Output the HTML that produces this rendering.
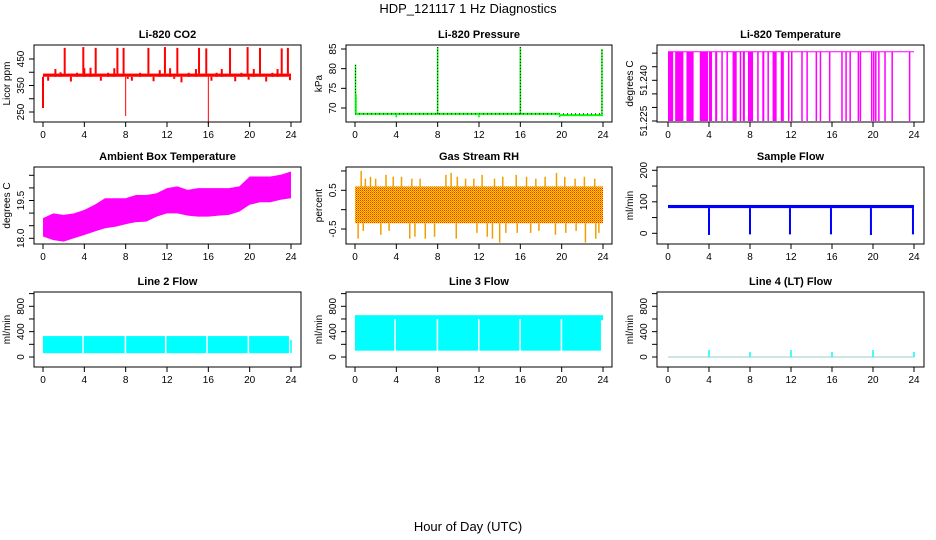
<!DOCTYPE html>
<html><head><meta charset="utf-8">
<style>
html,body{margin:0;padding:0;background:#fff;}
svg{display:block;font-family:"Liberation Sans",sans-serif;}
.t{font-size:11px;font-weight:bold;text-anchor:middle;}
.tk{font-size:10px;text-anchor:middle;}
</style></head>
<body>
<svg id="c" width="936" height="540" viewBox="0 0 936 540" xmlns="http://www.w3.org/2000/svg">
<defs>
<pattern id="rh" width="2" height="2" patternUnits="userSpaceOnUse"><rect width="2" height="2" fill="#ffd200"/><rect width="1" height="1" fill="#ff2a00"/><rect x="1" y="1" width="1" height="1" fill="#f08000"/></pattern>
</defs>
<text x="468" y="13" font-size="13" text-anchor="middle">HDP_121117  1 Hz Diagnostics</text>
<text x="468" y="531" font-size="13" text-anchor="middle">Hour of Day (UTC)</text>
</svg>
<script>
// ---- data arrays ----
const xTicks=[0,4,8,12,16,20,24];
const co2Base=[383,395];
const co2UpHours=[2.1,3.9,5.1,7.2,7.8,10.2,11.8,13.0,15.1,15.8,18.1,19.8,21.0,23.1,23.7];
const co2UpVals=[492,495,492,492,492,492,495,492,492,490,492,495,492,490,492];
const co2SmallHours=[0.5,1.2,1.7,2.7,3.3,4.0,4.6,5.6,6.3,6.9,8.2,8.6,9.4,10.7,11.3,12.3,12.7,13.4,14.1,14.8,16.3,16.8,17.3,18.6,19.2,19.9,20.4,21.6,22.2,22.7,23.9];
const co2SmallVals=[368,412,400,365,398,415,417,368,398,415,375,368,398,366,408,415,375,362,398,412,368,398,412,366,398,372,412,365,398,412,370];
const co2DownHours=[0.0,8.0,16.0];
const co2DownVals=[265,235,205];
const presBase=68.5;
const presSpikeHours=[0.05,8.0,16.0,23.9];
const presSpikeVals=[81,85.5,85.5,85];
const presLateHour=19.8, presLateVal=68.2;
const presDipHours=[4,12,19.8];
const tempTop=51.2505, tempBottom=51.225;
const tempIntervals=[[0.0,0.5],[0.7,1.5],[1.8,2.5],[3.1,3.9],[4.0,4.3],[4.6,4.8],[5.2,5.25],[5.7,5.75],[6.3,6.7],[7.0,7.05],[7.3,7.5],[7.8,8.3],[8.7,8.75],[9.2,9.4],[9.7,9.75],[10.2,10.6],[11.0,11.3],[11.7,11.75],[12.0,12.05],[13.0,13.05],[13.5,13.6],[14.4,14.45],[14.8,14.85],[15.7,15.75],[16.9,17.0],[17.3,17.35],[17.7,17.75],[18.5,18.55],[18.7,18.75],[19.8,19.85],[20.0,20.05],[20.2,20.25],[20.5,20.6],[21.1,21.2],[21.8,21.85],[23.5,23.55]];
const ambHours=[0,1,2,3,4,5,6,7,8,9,10,11,12,13,14,15,16,17,18,19,20,21,22,23,24];
const ambUpper=[18.80,18.99,18.93,18.99,19.13,19.33,19.59,19.59,19.59,19.72,19.72,19.79,19.99,20.06,19.92,19.99,19.99,19.99,19.99,20.06,20.45,20.45,20.45,20.52,20.65];
const ambLower=[18.07,17.93,17.87,18.00,18.13,18.27,18.40,18.46,18.56,18.64,18.66,18.86,18.99,18.99,18.90,18.86,18.86,18.90,18.93,19.06,19.33,19.43,19.43,19.53,19.59];
const rhBand=[-0.35,0.6];
const rhUpHours=[0.6,1.0,1.5,2.0,3.0,3.7,4.5,5.5,6.3,8.8,9.3,9.9,10.7,11.5,12.3,13.5,14.3,15.6,16.6,17.5,18.4,19.5,20.3,21.3,22.2,23.2];
const rhUpVals=[1.0,0.8,0.85,0.8,0.9,0.85,0.85,0.8,0.8,0.9,0.95,0.85,0.8,0.8,0.9,0.8,0.85,0.9,0.85,0.8,0.85,0.95,0.85,0.8,0.85,0.8];
const rhDownHours=[0.3,0.8,2.5,3.3,5.3,5.8,6.8,7.7,9.8,11.8,12.8,13.3,14.0,14.6,15.7,17.0,17.8,19.4,20.4,21.4,22.3,23.3,23.6];
const rhDownVals=[-0.75,-0.55,-0.65,-0.55,-0.75,-0.7,-0.75,-0.7,-0.75,-0.6,-0.7,-0.75,-0.85,-0.6,-0.6,-0.6,-0.55,-0.65,-0.6,-0.55,-0.85,-0.75,-0.6];
const flowBand=[80,90];
const flowDropHours=[4.0,8.0,11.9,15.9,19.8,23.9];
const flowDropVals=[-5,-3,-3,-3,-5,-3];
const l2Band=[60,330];
const l2GapHours=[3.8,7.9,11.8,15.8,19.8];
const l2End=23.8;
const l3Band=[100,660];
const l3GapHours=[3.8,7.9,11.9,15.9,19.9];
const l3End=23.8;
const l4SpikeHours=[4,8,12,16,20,24];
const l4SpikeVals=[110,80,110,80,110,80];

// ---- layout ----
const svg=document.getElementById('c');
const NS='http://www.w3.org/2000/svg';
const cols=[{l:34,r:301,x0:43,x24:291},{l:346,r:612,x0:355,x24:603},{l:657,r:924,x0:668,x24:914}];
const rows=[{t:45,b:122},{t:167,b:244},{t:292,b:367}];
function mk(tag,attrs,parent){const e=document.createElementNS(NS,tag);for(const k in attrs)e.setAttribute(k,attrs[k]);(parent||svg).appendChild(e);return e;}

function panel(ci,ri,title,ylab,cal,ticks,labels,name){
  const c=cols[ci],r=rows[ri];
  const g=mk('g',{});
  
  
  const xs=h=>c.x0+(c.x24-c.x0)*h/24;
  const ys=v=>cal[0][1]+(v-cal[0][0])*(cal[1][1]-cal[0][1])/(cal[1][0]-cal[0][0]);
  const dg=mk('g',{},g);
  
  
  const box=mk('rect',{x:c.l,y:r.t,width:c.r-c.l,height:r.b-r.t,fill:'none',stroke:'#000','stroke-width':1},g);
  
  
  const tt=mk('text',{x:(c.l+c.r)/2,y:r.t-7,class:'t'},g);tt.textContent=title;
  
  
  const xa=mk('g',{},g);
  
  
  mk('line',{x1:xs(0),x2:xs(24),y1:r.b,y2:r.b,stroke:'#000'},xa);
  xTicks.forEach(h=>{mk('line',{x1:xs(h),x2:xs(h),y1:r.b,y2:r.b+5,stroke:'#000'},xa);
    const t=mk('text',{x:xs(h),y:r.b+16,class:'tk'},xa);t.textContent=h;});
  const ya=mk('g',{},g);
  
  
  mk('line',{x1:c.l,x2:c.l,y1:ys(ticks[0]),y2:ys(ticks[ticks.length-1]),stroke:'#000'},ya);
  ticks.forEach(v=>mk('line',{x1:c.l-5,x2:c.l,y1:ys(v),y2:ys(v),stroke:'#000'},ya));
  labels.forEach(l=>{const y=ys(l[0]);const t=mk('text',{x:c.l-10,y:y,class:'tk',transform:`rotate(-90 ${c.l-10} ${y})`},ya);t.textContent=l[1];});
  const yl=mk('text',{x:c.l-24,y:(r.t+r.b)/2,class:'tk',transform:`rotate(-90 ${c.l-24} ${(r.t+r.b)/2})`},g);yl.textContent=ylab;
  
  
  return {xs,ys,g:dg};
}
function vline(p,h,v1,v2,col,w,dash){const e=mk('line',{x1:p.xs(h),x2:p.xs(h),y1:p.ys(v1),y2:p.ys(v2),stroke:col,'stroke-width':w||1},p.g);if(dash)e.setAttribute('stroke-dasharray',dash);return e;}
function band(p,h1,h2,v1,v2,col){return mk('rect',{x:p.xs(h1),y:p.ys(v2),width:p.xs(h2)-p.xs(h1),height:p.ys(v1)-p.ys(v2),fill:col},p.g);}

// CO2
let p=panel(0,0,'Li-820 CO2','Licor ppm',[[250,112],[450,59]],[250,300,350,400,450],[[250,'250'],[350,'350'],[450,'450']],'co2');
band(p,0,24,co2Base[0],co2Base[1],'#ff0000');
co2UpHours.forEach((h,i)=>vline(p,h,co2Base[1],co2UpVals[i],'#ff0000',2));
co2SmallHours.forEach((h,i)=>vline(p,h,co2Base[0],co2SmallVals[i],'#ff0000',2));
co2DownHours.forEach((h,i)=>vline(p,h,co2Base[0],co2DownVals[i],'#ff0000',i==0?2:1));
// Pressure
p=panel(1,0,'Li-820 Pressure','kPa',[[70,108],[85,49]],[70,75,80,85],[[70,'70'],[75,'75'],[80,'80'],[85,'85']],'pressure');
mk('line',{x1:p.xs(0),x2:p.xs(presLateHour),y1:p.ys(presBase),y2:p.ys(presBase),stroke:'#00ff00','stroke-width':2},p.g);
mk('line',{x1:p.xs(presLateHour),x2:p.xs(24),y1:p.ys(presLateVal),y2:p.ys(presLateVal),stroke:'#00ff00','stroke-width':2},p.g);
mk('line',{x1:p.xs(0),x2:p.xs(24),y1:p.ys(presBase),y2:p.ys(presBase),stroke:'#000','stroke-width':1,'stroke-dasharray':'1,3'},p.g);
presDipHours.forEach(h=>vline(p,h,presBase,presBase-0.9,'#00ff00',1.5));
presSpikeHours.forEach((h,i)=>{vline(p,h,presBase,presSpikeVals[i],'#00ff00',1.5);vline(p,h,presBase,presSpikeVals[i],'#000',1,'1,2');});
vline(p,0.1,presBase,73.5,'#00ff00',1.5);
// Temperature
p=panel(2,0,'Li-820 Temperature','degrees C',[[51.225,121],[51.240,80.3]],[51.225,51.23,51.235,51.24,51.245,51.25],[[51.225,'51.225'],[51.24,'51.240']],'li820-temp');
tempIntervals.forEach(iv=>{const e=band(p,iv[0],iv[1],tempBottom,tempTop,'#ff00ff');if(p.xs(iv[1])-p.xs(iv[0])<1.5)e.setAttribute('width',1.5);});
mk('line',{x1:p.xs(0),x2:p.xs(24),y1:p.ys(tempTop),y2:p.ys(tempTop),stroke:'#ff00ff'},p.g);
// Ambient
p=panel(0,1,'Ambient Box Temperature','degrees C',[[18.0,238.3],[19.5,200.5]],[18,18.5,19,19.5,20,20.5],[[18,'18.0'],[19.5,'19.5']],'ambient-temp');
{let pts=ambHours.map((h,i)=>p.xs(h)+','+p.ys(ambUpper[i]));pts=pts.concat(ambHours.slice().reverse().map((h,j)=>{const i=ambHours.length-1-j;return p.xs(h)+','+p.ys(ambLower[i]);}));
mk('polygon',{points:pts.join(' '),fill:'#ff00ff'},p.g);}
// RH
p=panel(1,1,'Gas Stream RH','percent',[[-0.5,229],[0.5,190.3]],[-0.5,0,0.5,1.0],[[-0.5,'-0.5'],[0.5,'0.5']],'rh');
band(p,0,24,rhBand[0],rhBand[1],'url(#rh)');
rhUpHours.forEach((h,i)=>vline(p,h,rhBand[1],rhUpVals[i],'#f0a000',1.5));
rhDownHours.forEach((h,i)=>vline(p,h,rhBand[0],rhDownVals[i],'#f0a000',1.5));
// Sample flow
p=panel(2,1,'Sample Flow','ml/min',[[0,233.3],[200,170.3]],[0,50,100,150,200],[[0,'0'],[100,'100'],[200,'200']],'sample-flow');
band(p,0,24,flowBand[0],flowBand[1],'#0000ff');
flowDropHours.forEach((h,i)=>{vline(p,h,flowBand[0],flowDropVals[i],'#0000ff',2);band(p,h-0.1,h+0.1,flowDropVals[i],flowDropVals[i]+4,'#0000ff');});
// Line 2
p=panel(0,2,'Line 2 Flow','ml/min',[[0,357],[800,306.3]],[0,200,400,600,800,1000],[[0,'0'],[400,'400'],[800,'800']],'line2-flow');
band(p,0,l2End,l2Band[0],l2Band[1],'#00ffff');
l2GapHours.forEach(h=>band(p,h,h+0.15,l2Band[0],l2Band[1],'#ffffff'));
vline(p,24,60,270,'#00ffff',1.5);
// Line 3
p=panel(1,2,'Line 3 Flow','ml/min',[[0,357],[800,306.3]],[0,200,400,600,800,1000],[[0,'0'],[400,'400'],[800,'800']],'line3-flow');
band(p,0,l3End,l3Band[0],l3Band[1],'#00ffff');
l3GapHours.forEach(h=>band(p,h,h+0.15,l3Band[0],600,'#ffffff'));
band(p,l3End,24,580,660,'#00ffff');
// Line 4
p=panel(2,2,'Line 4 (LT) Flow','ml/min',[[0,357],[800,306.3]],[0,200,400,600,800,1000],[[0,'0'],[400,'400'],[800,'800']],'line4-flow');
mk('line',{x1:p.xs(0),x2:p.xs(24),y1:p.ys(0),y2:p.ys(0),stroke:'#9cc'},p.g);
l4SpikeHours.forEach((h,i)=>vline(p,h,0,l4SpikeVals[i],'#00ffff',1.5));
</script>
</body></html>
